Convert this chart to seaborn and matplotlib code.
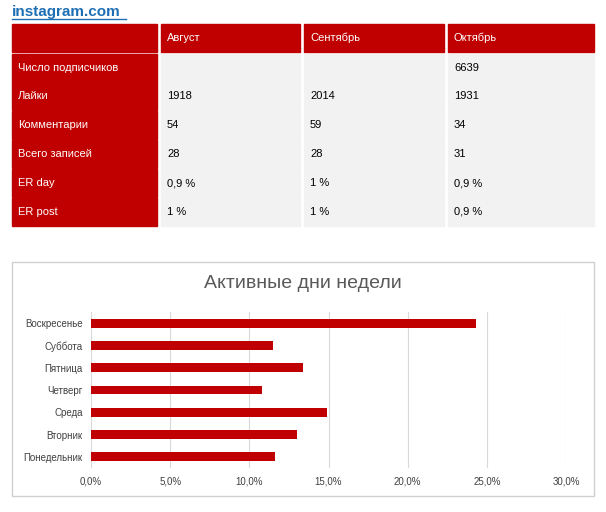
import numpy as np
import pandas as pd
import matplotlib
matplotlib.use("Agg")
import matplotlib.pyplot as plt
import seaborn as sns
from matplotlib.patches import Rectangle

plt.rcParams["font.family"] = "Liberation Sans"

# ---- data ----
months = ["Август", "Сентябрь", "Октябрь"]
row_labels = ["Число подписчиков", "Лайки", "Комментарии", "Всего записей", "ER day", "ER post"]
aug = ["", "1918", "54", "28", "0,9 %", "1 %"]
sep = ["", "2014", "59", "28", "1 %", "1 %"]
octo = ["6639", "1931", "34", "31", "0,9 %", "0,9 %"]

days = ["Воскресенье", "Суббота", "Пятница", "Четверг", "Среда", "Вторник", "Понедельник"]
share = [24.3, 11.5, 13.4, 10.8, 14.9, 13.0, 11.6]

RED = "#c00000"
W, H = 606, 512
fig = plt.figure(figsize=(W / 100, H / 100), dpi=100)

# ---- table (pixel coords, figure level) ----
tab = fig.add_axes([0, 0, 1, 1])
tab.set_xlim(0, W)
tab.set_ylim(H, 0)
tab.axis("off")

tab.text(12, 12, "instagram.com", color="#1f6fb5", fontsize=11, fontweight="bold",
         va="center", ha="left")
tab.plot([12, 126], [19, 19], color="#1f6fb5", lw=1)

col_x = [12, 161, 304, 448]
col_w = [145, 139, 140, 146]
row_y = [24, 54, 82, 111, 140, 169, 198]
row_h = 28
cols = [aug, sep, octo]

# header
for j in range(4):
    tab.add_patch(Rectangle((col_x[j], row_y[0]), col_w[j], row_h, color=RED))
    if j > 0:
        tab.text(col_x[j] + 6, row_y[0] + row_h / 2, months[j - 1], color="white",
                 fontsize=8, va="center")
for i, lab in enumerate(row_labels):
    y = row_y[i + 1]
    tab.add_patch(Rectangle((col_x[0], y), col_w[0], row_h, color=RED))
    tab.text(col_x[0] + 6, y + row_h / 2, lab, color="white", fontsize=8, va="center")
    for j, c in enumerate(cols):
        tab.add_patch(Rectangle((col_x[j + 1], y), col_w[j + 1], row_h, color="#f2f2f2"))
        tab.text(col_x[j + 1] + 6, y + row_h / 2, c[i], color="black", fontsize=8, va="center")

# chart frame
tab.add_patch(Rectangle((12, 262), 582, 234, fill=False, ec="#d0d0d0", lw=1))
tab.text(303, 284, "Активные дни недели", color="#595959", fontsize=14,
         ha="center", va="center")

# ---- bar chart ----
ax = fig.add_axes([91 / W, 1 - 468 / H, (566 - 91) / W, (468 - 312) / H])
df = pd.DataFrame({"day": days, "share": share})
sns.barplot(data=df, x="share", y="day", color=RED, width=0.4, ax=ax, saturation=1)
ax.set_xlim(0, 30)
ax.set_xticks(np.arange(0, 31, 5))
ax.set_xticklabels([f"{v:.1f}%".replace(".", ",") for v in np.arange(0, 31, 5)])
ax.grid(axis="x", color="#d9d9d9", lw=0.8)
ax.set_axisbelow(True)
for s in ax.spines.values():
    s.set_visible(False)
ax.tick_params(length=0, labelsize=7, colors="#404040", pad=6)
ax.set_xlabel("")
ax.set_ylabel("")

fig.savefig("out.png", dpi=100)
